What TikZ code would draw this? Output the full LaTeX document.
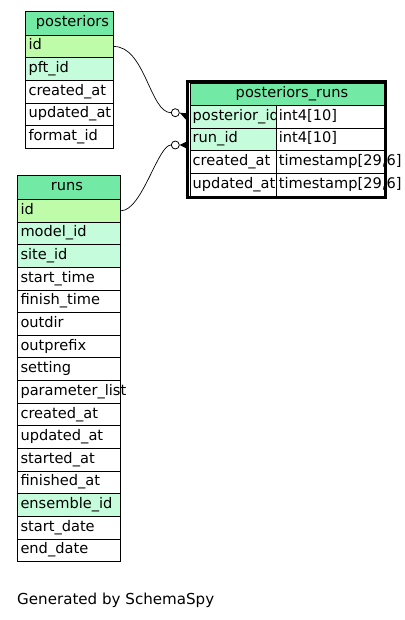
\documentclass[tikz,border=0pt]{standalone}
\usepackage{fontspec}
\setmainfont{DejaVu Sans}
\usetikzlibrary{calc}
\definecolor{hdrgreen}{RGB}{114,234,165}
\definecolor{pkgreen}{RGB}{190,252,170}
\definecolor{fkgreen}{RGB}{197,252,219}
% one table cell: box plus left-aligned label
\newcommand{\ercell}[7]{%
  \node[cellbox, fill=#5, minimum width=#4, minimum height=#6] (#1) at (#2,#3) {};
  \node[celltext] at ($(#1.west)+(3,0)$) {#7};
}
\begin{document}
\begin{tikzpicture}[x=1pt,y=-1pt,
  cellbox/.style={rectangle, draw=black, line width=0.9pt, anchor=north west, inner sep=0pt},
  celltext/.style={anchor=west, inner sep=0pt, text height=10pt, text depth=3pt, font=\fontsize{14.6}{16}\selectfont},
  headtext/.style={anchor=center, inner sep=0pt, text height=10pt, text depth=3pt, font=\fontsize{14.6}{16}\selectfont},
  ring/.style={circle, draw=black, line width=0.8pt, fill=white, minimum size=8pt, inner sep=0pt},
  link/.style={line width=0.7pt}]
\useasboundingbox[fill=white] (0,0) rectangle (404,620);

% ---- table: posteriors ----
\node[cellbox, fill=hdrgreen, minimum width=87.4pt, minimum height=23.4pt] (p-head) at (25.3,11.3) {};
\node[headtext] at (72.5,23) {posteriors};
\ercell{p-id}{25.3}{34.7}{87.4pt}{pkgreen}{22.67pt}{id}
\ercell{p-pft}{25.3}{57.37}{87.4pt}{fkgreen}{22.67pt}{pft\_id}
\ercell{p-created}{25.3}{80.03}{87.4pt}{white}{22.67pt}{created\_at}
\ercell{p-updated}{25.3}{102.7}{87.4pt}{white}{22.67pt}{updated\_at}
\ercell{p-format}{25.3}{125.37}{87.4pt}{white}{22.67pt}{format\_id}

% ---- table: runs ----
\node[cellbox, fill=hdrgreen, minimum width=103pt, minimum height=23.7pt] (r-head) at (17.3,175.3) {};
\node[headtext] at (67,187.2) {runs};
\foreach \nm/\lab/\col [count=\i from 0] in {
    r-id/id/pkgreen,
    r-model/model\_id/fkgreen,
    r-site/site\_id/fkgreen,
    r-start/start\_time/white,
    r-finish/finish\_time/white,
    r-outdir/outdir/white,
    r-outprefix/outprefix/white,
    r-setting/setting/white,
    r-param/parameter\_list/white,
    r-created/created\_at/white,
    r-updated/updated\_at/white,
    r-started/started\_at/white,
    r-finished/finished\_at/white,
    r-ensemble/ensemble\_id/fkgreen,
    r-sdate/start\_date/white,
    r-edate/end\_date/white}{
  \pgfmathsetmacro{\yy}{199+22.64*\i}
  \ercell{\nm}{17.3}{\yy}{103pt}{\col}{22.64pt}{\lab}
}

% ---- table: posteriors_runs ----
\node[cellbox, fill=hdrgreen, minimum width=195.5pt, minimum height=22pt] (pr-head) at (189.5,83) {};
\node[headtext] at (292,94) {posteriors\_runs};
\ercell{pr-pid}{189.5}{105}{86.2pt}{fkgreen}{22.7pt}{posterior\_id}
\ercell{pr-pidt}{275.7}{105}{109.3pt}{white}{22.7pt}{int4[10]}
\ercell{pr-rid}{189.5}{127.7}{86.2pt}{fkgreen}{22.7pt}{run\_id}
\ercell{pr-ridt}{275.7}{127.7}{109.3pt}{white}{22.7pt}{int4[10]}
\ercell{pr-cat}{189.5}{150.4}{86.2pt}{white}{22.7pt}{created\_at}
\ercell{pr-catt}{275.7}{150.4}{109.3pt}{white}{22.7pt}{timestamp[29,6]}
\ercell{pr-uat}{189.5}{173.1}{86.2pt}{white}{22.7pt}{updated\_at}
\ercell{pr-uatt}{275.7}{173.1}{109.3pt}{white}{22.7pt}{timestamp[29,6]}
% heavy frame round the focused table
\draw[line width=3pt] (187.2,81.5) rectangle (385.8,197.2);

% ---- relationships ----
\node[ring] (c1) at (175.3,112.7) {};
\node[ring] (c2) at (175.3,145) {};
\draw[link] (p-id.east) .. controls (145,46) and (150,112.7) .. (c1.west);
\draw[link] (r-id.east) .. controls (142,210.3) and (158,145) .. (c2.west);
\fill (c1.east) -- ($(pr-pid.west)+(-3,-3.5)$) -- ($(pr-pid.west)+(-3,3.5)$) -- cycle;
\fill (c2.east) -- ($(pr-rid.west |- c2)+(-3,-3.5)$) -- ($(pr-rid.west |- c2)+(-3,3.5)$) -- cycle;

% ---- footer ----
\node[anchor=base west, inner sep=0pt, font=\fontsize{15.1}{17}\selectfont] (footer) at (17,604.5) {Generated by SchemaSpy};
\end{tikzpicture}
\end{document}
